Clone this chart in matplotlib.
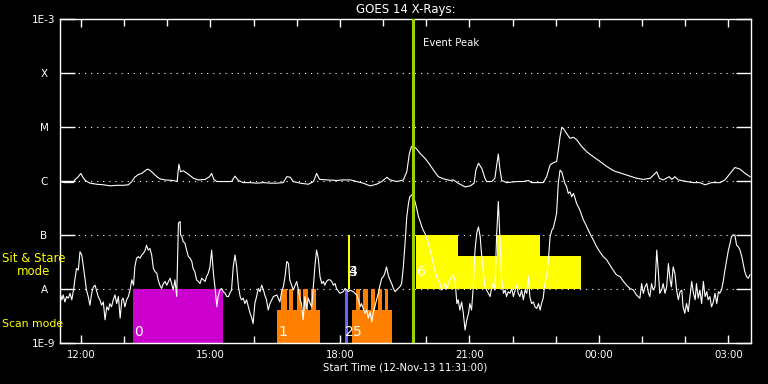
import numpy as np
import matplotlib
matplotlib.use('Agg')
import matplotlib.pyplot as plt
from matplotlib.ticker import FixedLocator, NullLocator

# GOES 14 long channel (1-8 A): hours since 00:00 12-Nov-13, log10 flux
long_t = [11.52, 11.63, 11.83, 11.86, 11.94, 12.00, 12.04, 12.10, 12.21, 12.37, 12.52, 12.68,
          12.83, 12.98, 13.10, 13.18, 13.25, 13.33, 13.41, 13.49, 13.54, 13.60, 13.68, 13.76,
          13.83, 13.95, 14.14, 14.23, 14.27, 14.31, 14.37, 14.45, 14.53, 14.61, 14.72, 14.88,
          14.98, 15.03, 15.08, 15.15, 15.30, 15.49, 15.57, 15.65, 15.76, 15.92, 16.07, 16.23,
          16.38, 16.54, 16.69, 16.77, 16.85, 16.92, 17.08, 17.27, 17.39, 17.46, 17.53, 17.70,
          17.93, 18.08, 18.24, 18.39, 18.54, 18.70, 18.85, 18.97, 19.09, 19.16, 19.32, 19.43,
          19.47, 19.55, 19.61, 19.66, 19.70, 19.78, 19.86, 19.97, 20.05, 20.17, 20.28, 20.40,
          20.55, 20.63, 20.74, 20.90, 21.02, 21.11, 21.15, 21.21, 21.29, 21.36, 21.40, 21.52,
          21.59, 21.63, 21.67, 21.71, 21.75, 21.86, 22.10, 22.25, 22.37, 22.44, 22.71, 22.79,
          22.87, 22.95, 23.02, 23.06, 23.10, 23.14, 23.18, 23.25, 23.33, 23.41, 23.49, 23.60,
          23.72, 23.87, 24.03, 24.18, 24.34, 24.49, 24.72, 24.88, 25.03, 25.19, 25.34, 25.40,
          25.49, 25.63, 25.69, 25.76, 25.84, 26.03, 26.19, 26.34, 26.46, 26.61, 26.81, 26.92,
          27.04, 27.15, 27.27, 27.39, 27.50]
long_logf = [-6.01, -6.03, -6.03, -5.98, -5.92, -5.86, -5.92, -5.99, -6.04, -6.06, -6.07, -6.09,
             -6.08, -6.08, -6.07, -6.01, -5.93, -5.88, -5.86, -5.81, -5.78, -5.80, -5.86, -5.92,
             -5.96, -5.98, -5.99, -6.01, -5.69, -5.83, -5.81, -5.85, -5.90, -5.95, -5.98, -5.97,
             -5.92, -5.86, -5.97, -6.01, -6.01, -6.01, -5.91, -5.99, -6.03, -6.03, -6.04, -6.03,
             -6.04, -6.04, -6.03, -5.92, -5.93, -6.01, -6.04, -6.06, -6.01, -5.86, -5.97, -5.98,
             -5.99, -5.98, -5.98, -6.01, -6.04, -6.09, -6.06, -6.01, -5.93, -5.98, -6.01, -5.99,
             -5.98, -5.83, -5.49, -5.36, -5.35, -5.41, -5.49, -5.58, -5.66, -5.80, -5.92, -5.96,
             -5.99, -5.98, -6.04, -6.11, -6.09, -6.04, -5.80, -5.67, -5.77, -5.95, -6.01, -6.01,
             -5.95, -5.73, -5.50, -5.80, -5.99, -6.03, -6.01, -6.01, -5.99, -6.03, -6.03, -5.92,
             -5.70, -5.66, -5.64, -5.43, -5.18, -5.01, -5.03, -5.12, -5.21, -5.19, -5.24, -5.36,
             -5.46, -5.55, -5.64, -5.73, -5.81, -5.85, -5.91, -5.95, -5.97, -5.95, -5.83, -5.95,
             -5.98, -5.92, -5.97, -5.92, -5.98, -6.01, -6.03, -6.03, -6.07, -6.03, -6.03, -5.98,
             -5.86, -5.75, -5.78, -5.86, -5.92]

# GOES 14 short channel (0.5-4 A)
short_t = [11.52, 11.56, 11.59, 11.63, 11.67, 11.71, 11.75, 11.79, 11.83, 11.86, 11.90, 11.94,
           11.98, 12.02, 12.06, 12.10, 12.13, 12.17, 12.21, 12.25, 12.29, 12.33, 12.37, 12.40,
           12.44, 12.48, 12.52, 12.56, 12.60, 12.64, 12.67, 12.71, 12.75, 12.79, 12.83, 12.87,
           12.91, 12.95, 12.98, 13.02, 13.06, 13.10, 13.14, 13.18, 13.22, 13.25, 13.29, 13.33,
           13.37, 13.41, 13.45, 13.49, 13.52, 13.56, 13.60, 13.64, 13.68, 13.72, 13.76, 13.79,
           13.83, 13.87, 13.91, 13.95, 13.99, 14.03, 14.07, 14.10, 14.14, 14.18, 14.22, 14.26,
           14.30, 14.31, 14.34, 14.37, 14.41, 14.45, 14.49, 14.53, 14.57, 14.60, 14.64, 14.68,
           14.72, 14.76, 14.80, 14.84, 14.88, 14.91, 14.95, 14.99, 15.03, 15.07, 15.11, 15.15,
           15.18, 15.22, 15.26, 15.30, 15.34, 15.38, 15.42, 15.45, 15.49, 15.53, 15.57, 15.61,
           15.65, 15.69, 15.72, 15.76, 15.80, 15.84, 15.88, 15.92, 15.96, 15.99, 16.03, 16.07,
           16.11, 16.15, 16.19, 16.23, 16.26, 16.30, 16.34, 16.38, 16.46, 16.54, 16.61, 16.65,
           16.69, 16.73, 16.77, 16.81, 16.84, 16.92, 17.00, 17.04, 17.08, 17.11, 17.15, 17.19,
           17.23, 17.27, 17.31, 17.35, 17.38, 17.42, 17.46, 17.50, 17.54, 17.58, 17.62, 17.65,
           17.69, 17.73, 17.77, 17.81, 17.85, 17.89, 17.92, 18.00, 18.08, 18.12, 18.16, 18.20,
           18.23, 18.31, 18.39, 18.43, 18.47, 18.50, 18.54, 18.58, 18.62, 18.66, 18.70, 18.74,
           18.77, 18.81, 18.85, 18.89, 18.93, 18.97, 19.01, 19.04, 19.08, 19.12, 19.16, 19.20,
           19.24, 19.28, 19.31, 19.35, 19.39, 19.43, 19.47, 19.51, 19.55, 19.59, 19.62, 19.66,
           19.70, 19.74, 19.78, 19.82, 19.86, 19.90, 19.93, 19.97, 20.01, 20.05, 20.09, 20.13,
           20.17, 20.24, 20.32, 20.36, 20.40, 20.44, 20.47, 20.51, 20.55, 20.59, 20.63, 20.67,
           20.71, 20.74, 20.78, 20.82, 20.86, 20.90, 20.94, 20.98, 21.01, 21.05, 21.09, 21.13,
           21.17, 21.21, 21.25, 21.28, 21.32, 21.36, 21.40, 21.44, 21.48, 21.52, 21.55, 21.59,
           21.63, 21.67, 21.71, 21.75, 21.79, 21.83, 21.86, 21.90, 21.94, 21.98, 22.02, 22.06,
           22.10, 22.13, 22.17, 22.21, 22.25, 22.29, 22.33, 22.37, 22.40, 22.44, 22.48, 22.52,
           22.56, 22.60, 22.64, 22.67, 22.71, 22.75, 22.79, 22.83, 22.87, 22.91, 22.94, 22.98,
           23.02, 23.06, 23.10, 23.14, 23.18, 23.21, 23.25, 23.29, 23.33, 23.37, 23.41, 23.45,
           23.48, 23.56, 23.60, 23.64, 23.68, 23.72, 23.79, 23.83, 23.87, 23.95, 24.02, 24.10,
           24.18, 24.26, 24.33, 24.41, 24.49, 24.57, 24.64, 24.72, 24.80, 24.87, 24.95, 24.99,
           25.03, 25.07, 25.11, 25.15, 25.18, 25.22, 25.26, 25.30, 25.34, 25.38, 25.41, 25.45,
           25.49, 25.53, 25.57, 25.61, 25.65, 25.68, 25.72, 25.76, 25.80, 25.84, 25.88, 25.92,
           25.95, 25.99, 26.03, 26.07, 26.11, 26.15, 26.19, 26.23, 26.26, 26.30, 26.34, 26.38,
           26.42, 26.46, 26.50, 26.53, 26.57, 26.61, 26.65, 26.69, 26.73, 26.77, 26.80, 26.84,
           26.88, 26.92, 26.96, 27.00, 27.04, 27.07, 27.11, 27.15, 27.19, 27.23, 27.27, 27.31,
           27.35, 27.38, 27.42, 27.46, 27.50]
short_logf = [-8.08, -8.20, -8.11, -8.24, -8.14, -8.17, -8.08, -8.20, -8.02, -7.83, -7.62, -7.65,
              -7.31, -7.37, -7.59, -7.83, -8.02, -8.14, -8.30, -8.08, -7.96, -7.93, -8.05, -8.14,
              -8.20, -8.30, -8.24, -8.57, -8.33, -8.39, -8.27, -8.33, -8.20, -8.11, -8.27, -8.14,
              -8.54, -8.20, -8.17, -8.33, -8.20, -8.14, -8.02, -7.83, -7.93, -7.59, -7.43, -7.40,
              -7.43, -7.37, -7.34, -7.28, -7.19, -7.28, -7.25, -7.37, -7.62, -7.68, -7.71, -7.83,
              -7.93, -7.99, -7.90, -7.86, -7.93, -7.86, -7.80, -7.90, -8.02, -7.83, -8.14, -6.78,
              -6.75, -7.00, -7.03, -7.12, -7.15, -7.28, -7.40, -7.43, -7.49, -7.62, -7.68, -7.83,
              -7.86, -7.90, -7.80, -7.83, -7.86, -7.77, -7.71, -7.59, -7.28, -7.71, -7.99, -8.33,
              -8.14, -8.02, -7.99, -8.05, -8.08, -8.14, -8.14, -8.08, -8.02, -7.59, -7.37, -7.59,
              -7.96, -8.14, -8.20, -8.17, -8.27, -8.20, -8.33, -8.45, -8.54, -8.64, -8.27, -8.14,
              -7.99, -8.05, -7.93, -8.02, -8.11, -8.20, -8.39, -8.27, -8.14, -8.11, -8.24, -8.05,
              -7.96, -7.77, -7.49, -7.53, -7.83, -8.02, -7.86, -8.02, -8.20, -8.27, -8.57, -8.14,
              -8.36, -8.17, -8.27, -8.33, -8.02, -7.59, -7.28, -7.43, -7.77, -7.90, -7.86, -7.93,
              -7.86, -7.83, -7.83, -7.86, -7.93, -7.90, -7.99, -8.08, -8.05, -7.99, -8.02, -8.05,
              -8.02, -8.05, -8.11, -8.20, -8.33, -8.27, -8.36, -8.45, -8.39, -8.54, -8.42, -8.61,
              -8.45, -8.33, -8.20, -8.08, -7.93, -7.80, -7.77, -7.71, -7.59, -7.74, -7.83, -7.90,
              -7.99, -8.05, -8.02, -7.99, -7.96, -7.90, -7.59, -7.15, -6.66, -6.41, -6.29, -6.26,
              -6.29, -6.38, -6.51, -6.66, -6.75, -6.85, -6.91, -6.97, -7.06, -7.15, -7.28, -7.40,
              -7.56, -7.77, -7.90, -8.02, -7.96, -7.90, -7.99, -7.90, -7.83, -7.77, -7.74, -7.86,
              -8.27, -8.20, -8.39, -8.24, -8.45, -8.76, -8.57, -8.45, -8.27, -8.39, -7.96, -7.28,
              -6.97, -6.85, -7.03, -7.34, -7.65, -7.96, -8.02, -8.08, -8.14, -7.96, -7.90, -8.02,
              -7.03, -6.38, -7.09, -7.83, -8.08, -8.02, -8.14, -8.05, -8.08, -7.99, -8.14, -8.02,
              -7.93, -8.08, -8.14, -8.02, -8.20, -8.02, -8.08, -7.77, -8.14, -8.27, -8.24, -8.33,
              -8.36, -8.27, -8.39, -8.27, -8.17, -7.90, -7.77, -7.46, -7.03, -6.91, -6.88, -6.75,
              -6.60, -6.04, -5.80, -5.83, -5.95, -6.04, -6.10, -6.23, -6.20, -6.29, -6.23, -6.32,
              -6.41, -6.54, -6.63, -6.72, -6.78, -6.85, -6.97, -7.03, -7.09, -7.22, -7.31, -7.40,
              -7.46, -7.56, -7.65, -7.74, -7.77, -7.86, -7.93, -7.99, -8.02, -8.11, -8.17, -7.90,
              -8.08, -7.96, -7.90, -8.08, -8.14, -7.90, -8.02, -7.96, -7.28, -7.71, -8.08, -8.02,
              -7.90, -8.08, -7.96, -7.53, -7.83, -7.96, -7.59, -7.71, -8.02, -8.20, -8.05, -8.02,
              -8.33, -8.45, -8.27, -8.42, -8.14, -7.86, -8.08, -8.20, -7.90, -8.17, -8.02, -8.27,
              -7.86, -8.14, -8.05, -8.20, -8.14, -8.33, -8.24, -8.08, -8.27, -8.05, -8.08, -8.02,
              -7.86, -7.65, -7.46, -7.28, -7.15, -7.03, -7.00, -7.00, -7.19, -7.22, -7.28, -7.40,
              -7.56, -7.68, -7.77, -7.80, -7.74]

# IRIS observation blocks (hours)
raster0 = (13.20, 15.29)
raster1 = (16.54, 17.53)
raster1_starts = [16.64, 16.83, 17.00, 17.15, 17.34]
raster1_ends = [16.77, 16.92, 17.09, 17.27, 17.44]
obs2 = (18.12, 18.18)
obs34 = (18.19, 18.23)
raster5 = (18.27, 19.20)
raster5_starts = [18.37, 18.54, 18.72, 18.89, 19.05]
raster5_ends = [18.47, 18.64, 18.81, 18.98, 19.12]
scan_base_logf = -8.38
sitstare_edges = [19.76, 20.73, 21.65, 22.64, 23.58]
sitstare_tops = [-7.0, -7.39, -7.0, -7.39]

event_peak = 19.69
t_start, t_end = 11.5167, 27.5167

goes_levels = [1e-9, 1e-8, 1e-7, 1e-6, 1e-5, 1e-4, 1e-3]
goes_labels = ['1E-9', 'A', 'B', 'C', 'M', 'X', '1E-3']
hour_ticks = [12, 15, 18, 21, 24, 27]

fig = plt.figure(figsize=(7.68, 3.84), dpi=100, facecolor='black')
ax = fig.add_axes([60 / 768, 41 / 384, 690.7 / 768, 324 / 384])
ax.set_facecolor('black')
ax.set_yscale('log')
ax.set_xlim(t_start, t_end)
ax.set_ylim(1e-9, 1e-3)

# 观测块
lo = 1e-9
def bar(x0, x1, y0, y1, c):
    ax.bar(x0, y1 - y0, width=x1 - x0, bottom=y0, align='edge', color=c, linewidth=0, zorder=2)

bar(raster0[0], raster0[1], lo, 1e-8, '#cc00cc')
for base, starts, ends in [(raster1, raster1_starts, raster1_ends),
                           (raster5, raster5_starts, raster5_ends)]:
    bar(base[0], base[1], lo, 10 ** scan_base_logf, '#ff8000')
    for s, e in zip(starts, ends):
        bar(s, e, lo, 1e-8, '#ff8000')
bar(obs2[0], obs2[1], lo, 1e-8, '#6666ff')
bar(obs34[0], obs34[1], 1e-8, 1e-7, '#ffff00')
for i in range(len(sitstare_tops)):
    bar(sitstare_edges[i], sitstare_edges[i + 1], 1e-8, 10 ** sitstare_tops[i], '#ffff00')

# GOES 曲线
ax.plot(long_t, 10 ** np.array(long_logf), color='white', lw=0.8, zorder=3)
ax.plot(short_t, 10 ** np.array(short_logf), color='white', lw=0.8, zorder=3)

# 网格虚线
for lev in goes_levels[1:-1]:
    ax.axhline(lev, color='white', lw=0.8, linestyle=(0, (1, 4.5)), zorder=1)

ax.axvline(event_peak, color='#a0d000', lw=2.2, zorder=4)
ax.text(event_peak + 0.24, 10 ** -3.44, 'Event Peak', color='white', fontsize=7.3,
        ha='left', va='center')

# 编号
lab_y = 10 ** -8.8
ax.text(raster0[0] + 0.03, lab_y, '0', color='white', fontsize=10, ha='left', va='center', zorder=5)
ax.text(raster1[0] + 0.03, lab_y, '1', color='white', fontsize=10, ha='left', va='center', zorder=5)
ax.text(obs2[0] + 0.01, lab_y, '2', color='white', fontsize=10, ha='left', va='center', zorder=5)
ax.text(raster5[0] + 0.03, lab_y, '5', color='white', fontsize=10, ha='left', va='center', zorder=5)
ax.text(obs34[0] + 0.01, 10 ** -7.69, '3', color='white', fontsize=10, ha='left', va='center', zorder=5)
ax.text(obs34[0] + 0.01, 10 ** -7.69, '4', color='white', fontsize=10, ha='left', va='center', zorder=5)
ax.text(sitstare_edges[0] + 0.03, 10 ** -7.69, '6', color='white', fontsize=10, ha='left',
        va='center', zorder=5)

# 坐标轴
for sp in ax.spines.values():
    sp.set_color('white')
    sp.set_linewidth(1.0)
ax.yaxis.set_major_locator(FixedLocator(goes_levels))
ax.yaxis.set_minor_locator(NullLocator())
ax.set_yticklabels(goes_labels)
ax.set_xticks(hour_ticks)
ax.set_xticklabels([f'{h % 24:02d}:00' for h in hour_ticks])
ax.xaxis.set_minor_locator(FixedLocator(list(range(12, 28))))
ax.tick_params(axis='y', which='major', direction='in', length=11, width=1, colors='white',
               left=True, right=True, labelsize=7.5, pad=11.5)
for lab in ax.get_yticklabels():
    lab.set_horizontalalignment('center')
ax.tick_params(axis='x', which='major', direction='in', length=6, width=1, colors='white',
               top=True, bottom=True, labelsize=7.3, pad=5)
ax.tick_params(axis='x', which='minor', direction='in', length=5, width=1, colors='white',
               top=True, bottom=True)
ax.set_xlabel('Start Time (12-Nov-13 11:31:00)', color='white', fontsize=7.3, labelpad=2)
ax.set_title('GOES 14 X-Rays:', color='white', fontsize=8.5, pad=4)

ytr = ax.get_yaxis_transform()
ax.text(-0.084, 10 ** -7.556, 'Sit & Stare\nmode', color='yellow', fontsize=8.5, ha='left',
        va='center', multialignment='center', linespacing=1.0, transform=ytr, clip_on=False)
ax.text(-0.084, 10 ** -8.648, 'Scan mode', color='yellow', fontsize=7.8, ha='left',
        va='center', transform=ytr, clip_on=False)

fig.savefig('out.png', dpi=100, facecolor='black')
